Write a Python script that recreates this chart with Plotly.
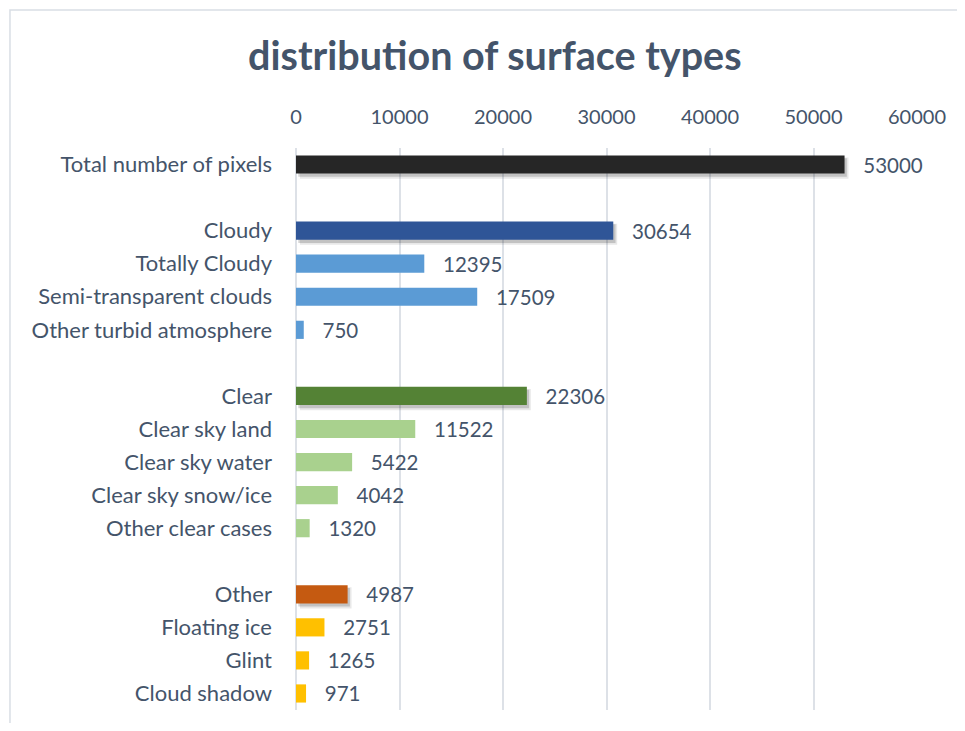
import plotly.graph_objects as go

categories = ["Total number of pixels", " ",
              "Cloudy", "Totally Cloudy", "Semi-transparent clouds", "Other turbid atmosphere", "  ",
              "Clear", "Clear sky land", "Clear sky water", "Clear sky snow/ice", "Other clear cases", "   ",
              "Other", "Floating ice", "Glint", "Cloud shadow"]
values = [53000, None,
          30654, 12395, 17509, 750, None,
          22306, 11522, 5422, 4042, 1320, None,
          4987, 2751, 1265, 971]
colors = ["#262626", "#FFFFFF",
          "#2F5597", "#5B9BD5", "#5B9BD5", "#5B9BD5", "#FFFFFF",
          "#548235", "#A9D18E", "#A9D18E", "#A9D18E", "#A9D18E", "#FFFFFF",
          "#C55A11", "#FFC000", "#FFC000", "#FFC000"]
main_groups = ["Total number of pixels", "Cloudy", "Clear", "Other"]
x_ticks = [0, 10000, 20000, 30000, 40000, 50000, 60000]

text_color = "#44546A"
font_family = "Lato, 'Open Sans', sans-serif"

fig = go.Figure()

# soft shadow under main bars (two layers to fake a blur)
shadow_vals = [v if c in main_groups else None for c, v in zip(categories, values)]
fig.add_trace(go.Bar(
    y=categories, x=shadow_vals, orientation="h",
    marker=dict(color="rgba(0,0,0,0.09)", line=dict(width=0)),
    width=0.64, offset=-0.21, base=380,
    hoverinfo="skip", showlegend=False,
))
fig.add_trace(go.Bar(
    y=categories, x=shadow_vals, orientation="h",
    marker=dict(color="rgba(0,0,0,0.16)", line=dict(width=0)),
    width=0.56, offset=-0.19, base=220,
    hoverinfo="skip", showlegend=False,
))

fig.add_trace(go.Bar(
    y=categories, x=values, orientation="h",
    marker=dict(color=colors, line=dict(width=0)),
    width=0.55,
    text=[("   " + str(v)) if v is not None else "" for v in values],
    textposition="outside", cliponaxis=False, constraintext="none",
    textfont=dict(color=text_color, size=20.5, family=font_family),
    showlegend=False,
))

fig.update_layout(
    width=949, height=715,
    margin=dict(l=288, r=40, t=140, b=13),
    paper_bgcolor="white", plot_bgcolor="white",
    barmode="overlay",
    title=dict(text="<b>distribution of surface types</b>", x=0.513, xanchor="center",
               y=0.933, yanchor="middle",
               font=dict(size=39.5, color=text_color, family=font_family)),
    font=dict(family=font_family, color=text_color, size=20),
    xaxis=dict(side="top", range=[0, 60000], tickvals=x_ticks,
               ticktext=[str(t) for t in x_ticks],
               showgrid=True, gridcolor="#DDE1E7", gridwidth=2,
               zeroline=True, zerolinecolor="#DDE1E7", zerolinewidth=2,
               showline=False, ticks="", ticklabelstandoff=19,
               tickfont=dict(size=20, color=text_color)),
    yaxis=dict(categoryorder="array", categoryarray=categories, autorange="reversed",
               showgrid=False, zeroline=False, showline=False, ticks="",
               ticklabelstandoff=23, tickfont=dict(size=22, color=text_color)),
    shapes=[dict(type="rect", xref="paper", yref="paper",
                 x0=-0.4606, x1=1.2, y0=-0.2, y1=1.2456,
                 line=dict(color="#D9DEE5", width=1.5), fillcolor="rgba(0,0,0,0)",
                 layer="below")],
)

fig.write_html("out.html")
